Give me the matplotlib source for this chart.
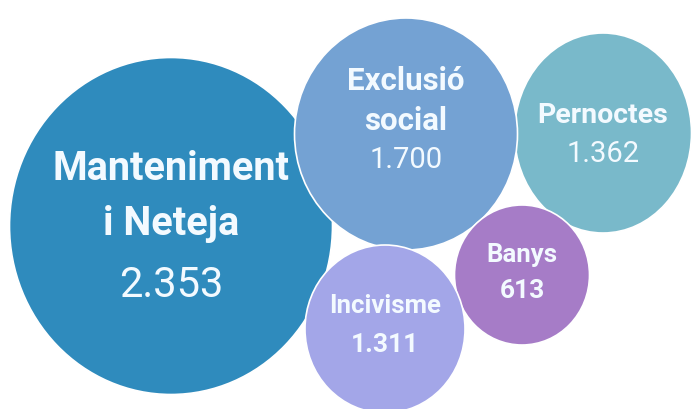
import matplotlib.pyplot as plt
from matplotlib.patches import Ellipse

# Bubble data (values read from the infographic)
names = [['Manteniment', 'i Neteja'], ['Pernoctes'], ['Exclusió', 'social'], ['Banys'], ['Incivisme']]
values = ['2.353', '1.362', '1.700', '613', '1.311']
colors = ['#2f8bbd', '#79b9ca', '#74a2d3', '#a67cc7', '#a3a6e8']

# Layout in pixel units of the picture (hand placed bubbles)
cx = [171, 603, 406, 522, 385]
cy = [226, 133, 134, 275, 329]
w = [323, 177, 223, 135, 160]
h = [337, 200, 232, 140, 168]
name_base = [[180, 235], [123], [90, 130], [262], [313]]   # baselines of name lines
value_base = [297, 162, 168, 298, 352]
name_size = [28.5, 20.5, 22.5, 18.5, 18.5]
value_size = [30, 21, 21, 19, 19]
value_bold = [False, False, False, True, True]

fig = plt.figure(figsize=(6.93, 4.09), dpi=100)
ax = fig.add_axes([0, 0, 1, 1])
ax.set_xlim(0, 693)
ax.set_ylim(409, 0)
ax.axis('off')

txt = '#f3faff'
for i in range(len(names)):
    ax.add_patch(Ellipse((cx[i], cy[i]), w[i], h[i], facecolor=colors[i],
                         edgecolor='white', linewidth=1.2))
    for line, y in zip(names[i], name_base[i]):
        ax.text(cx[i], y, line, ha='center', va='baseline',
                fontsize=name_size[i], fontweight='bold', family='Roboto', color=txt)
    ax.text(cx[i], value_base[i], values[i], ha='center', va='baseline',
            fontsize=value_size[i], fontweight='bold' if value_bold[i] else 'normal',
            family='Roboto', color=txt)

fig.savefig('out.png', dpi=100)
